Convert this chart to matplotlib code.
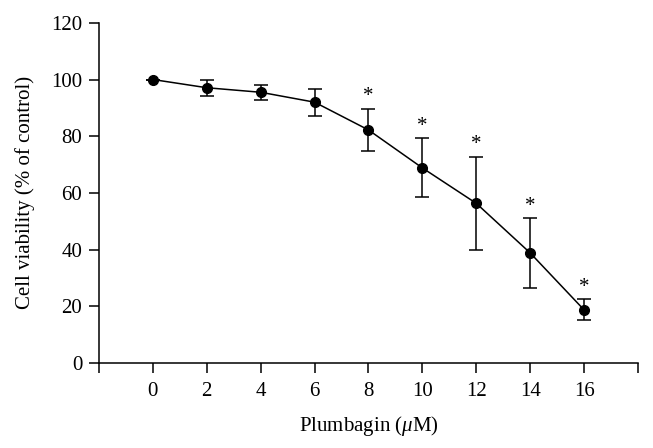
import numpy as np
import matplotlib.pyplot as plt

plt.rcParams['font.family'] = ['Liberation Serif', 'DejaVu Serif']
plt.rcParams['mathtext.fontset'] = 'custom'
plt.rcParams['mathtext.rm'] = 'Liberation Serif'
plt.rcParams['mathtext.it'] = 'Liberation Serif:italic'

# plumbagin dose (uM) and viability
dose = [0, 2, 4, 6, 8, 10, 12, 14, 16]
viability = [100, 97.1, 95.5, 92.0, 82.2, 68.8, 56.3, 38.8, 18.7]
err = [0, 2.9, 2.6, 4.7, 7.5, 10.4, 16.5, 12.2, 3.7]
signif = [False, False, False, False, True, True, True, True, True]

fig = plt.figure(figsize=(6.53, 4.48), dpi=100)
ax = fig.add_axes([0.1516, 0.19, 0.8254, 0.759])

ax.errorbar(dose, viability, yerr=err, color='black', marker='o', markersize=7,
            linewidth=1.1, elinewidth=1.1, capsize=5, capthick=1.1)

for x, y, e, s in zip(dose, viability, err, signif):
    if s:
        ax.text(x, y + e + 0.8, '*', ha='center', va='bottom', fontsize=15)

ax.set_xlim(-2, 18)
ax.set_ylim(0, 120)
ax.set_xticks(np.arange(-2, 19, 2))
ax.set_xticklabels([''] + [str(d) for d in dose] + [''])
ax.set_yticks(np.arange(0, 121, 20))

ax.spines['top'].set_visible(False)
ax.spines['right'].set_visible(False)
for sp in ['left', 'bottom']:
    ax.spines[sp].set_linewidth(1.1)

ax.tick_params(axis='both', labelsize=15, width=1.1, length=7, direction='out')
ax.tick_params(axis='x', pad=7)
ax.tick_params(axis='y', pad=5)

ax.set_xlabel(r'Plumbagin ($\mu$M)', fontsize=15, labelpad=9)
ax.set_ylabel('Cell viability (% of control)', fontsize=15, labelpad=12)

fig.savefig('out.png', dpi=100)
